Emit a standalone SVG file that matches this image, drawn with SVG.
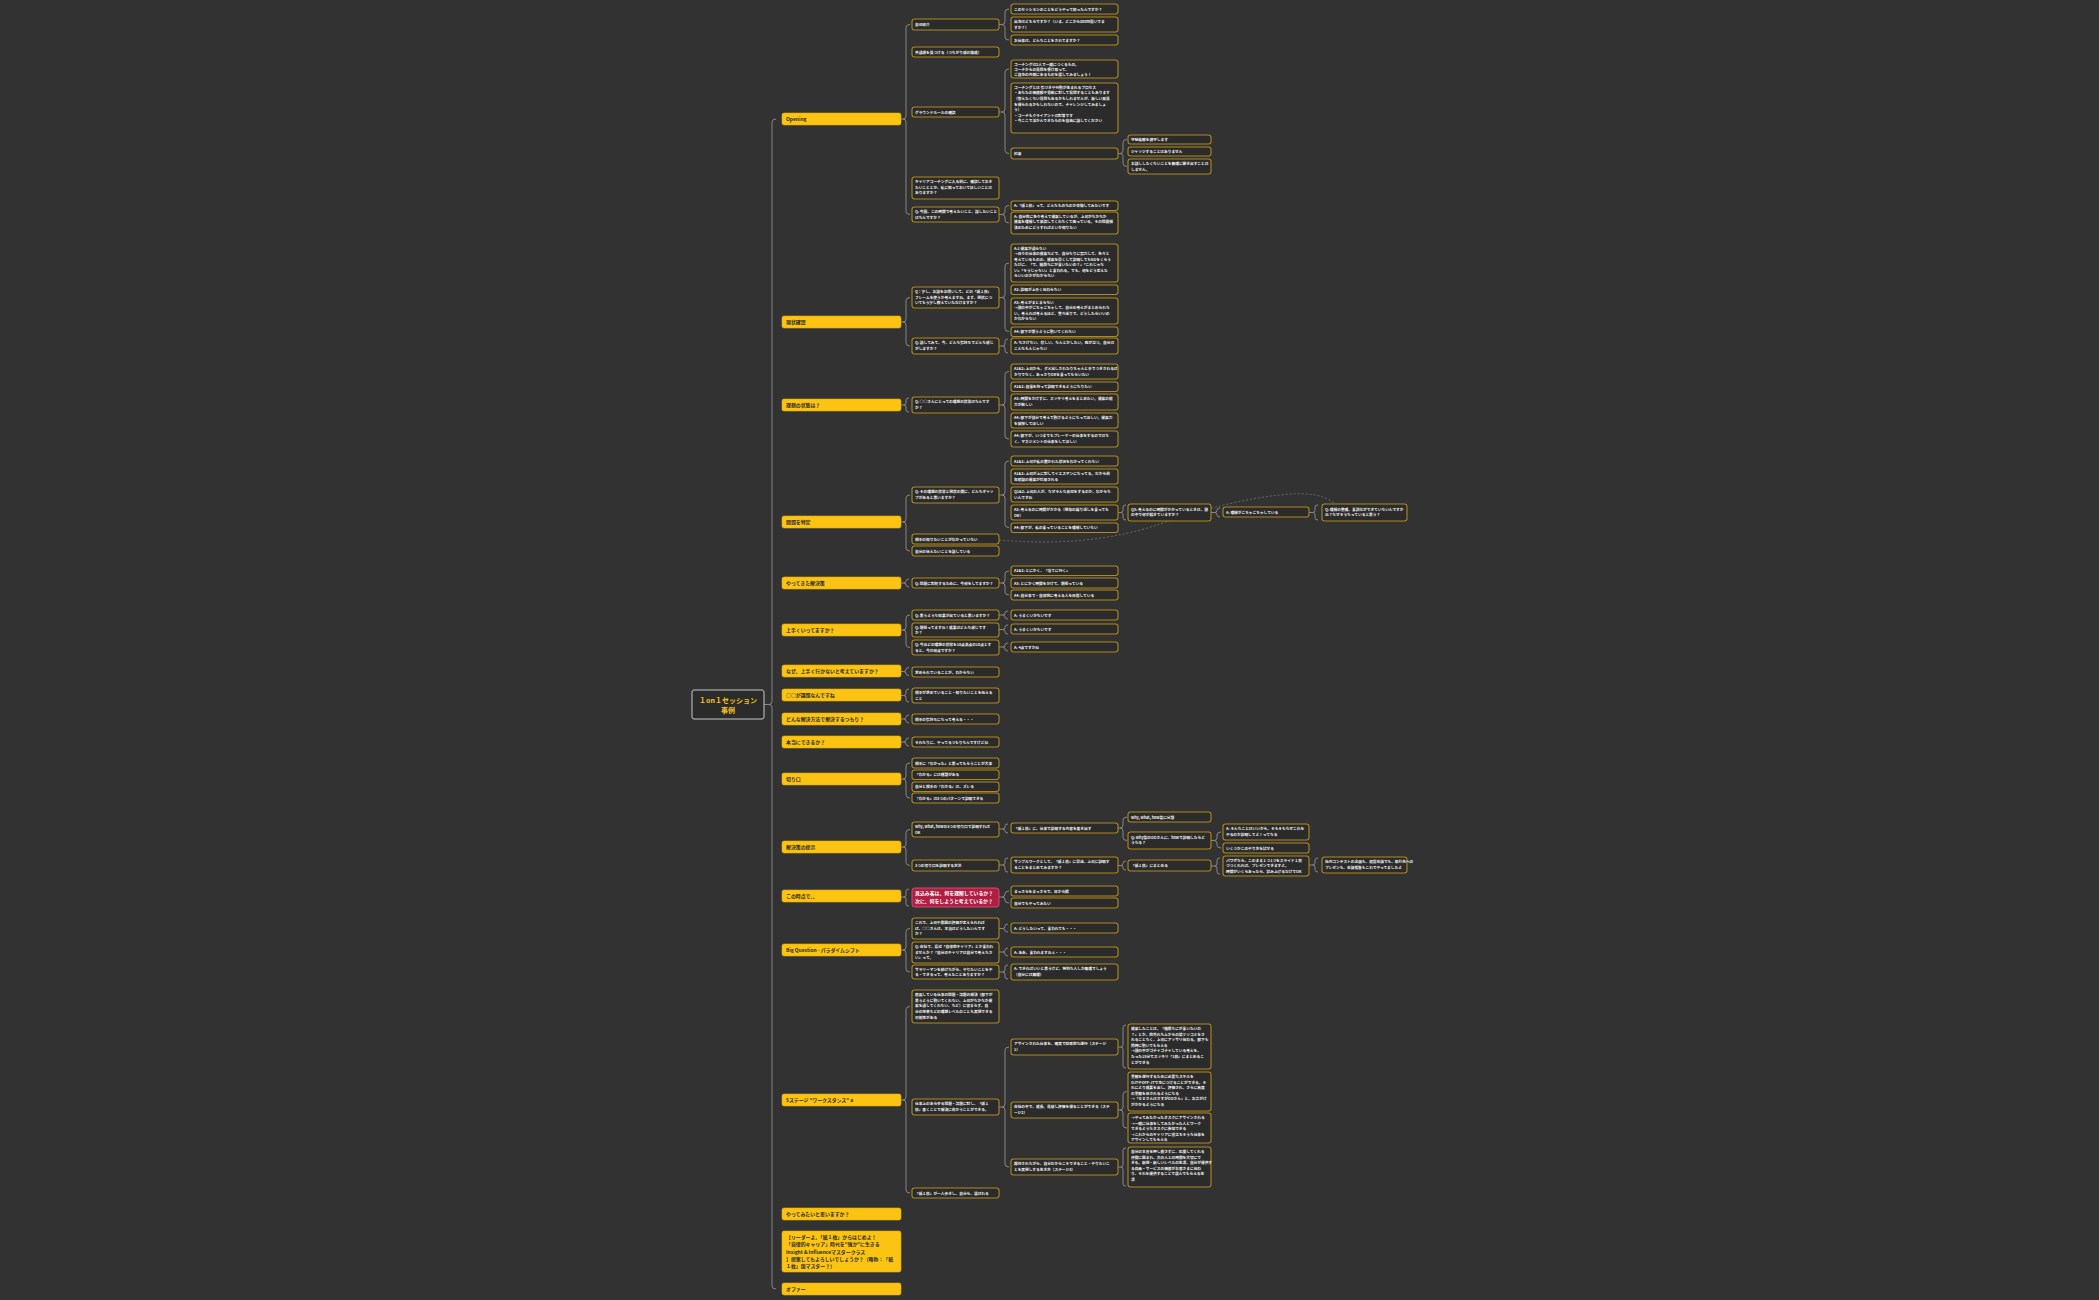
<svg xmlns="http://www.w3.org/2000/svg" width="2099" height="1300" viewBox="0 0 2099 1300">
<style>
.l1{fill:#fbc312;stroke:#e3ad0a;stroke-width:0.6}
.t1{font-family:"Noto Sans CJK JP","Noto Sans",sans-serif;font-size:4.9px;font-weight:bold;fill:#2b2b2b}
.n{fill:#2b2b2b;stroke:#b08a1c;stroke-width:1.1}
.t{font-family:"Noto Sans CJK JP","Noto Sans",sans-serif;font-size:3.7px;font-weight:bold;fill:#f0f0f0}
.br{fill:none;stroke:#8e8e8e;stroke-width:0.9}
.rel{fill:none;stroke:#777;stroke-width:0.8;stroke-dasharray:2 2}
</style>
<rect width="2099" height="1300" fill="#323232"/>
<g id="connectors">
<path class="br" d="M764 704.5 H769 M776 119 Q772 119 772 122 V701.5 Q772 704.5 769 704.5 Q772 704.5 772 707.5 V1286 Q772 1289 776 1289"/>
<path class="br" d="M901 119 H903 M910 24.5 Q906 24.5 906 27.5 V116 Q906 119 903 119 Q906 119 906 122 V211.5 Q906 214.5 910 214.5"/>
<path class="br" d="M901 322 H903 M910 297.5 Q906 297.5 906 300.5 V319 Q906 322 903 322 Q906 322 906 325 V343 Q906 346 910 346"/>
<path class="br" d="M901 405 H903.5 M909 398 Q906 398 906 400 V403 Q906 405 903.5 405 Q906 405 906 407 V410 Q906 412 909 412"/>
<path class="br" d="M901 522 H903 M910 495 Q906 495 906 498 V519 Q906 522 903 522 Q906 522 906 525 V548 Q906 551 910 551"/>
<path class="br" d="M901 583 H903.5 M909 579 Q906 579 906 581 Q906 583 903.5 583 Q906 583 906 585 Q906 587 909 587"/>
<path class="br" d="M901 630 H903 M910 615 Q906 615 906 618 V627 Q906 630 903 630 Q906 630 906 633 V644.5 Q906 647.5 910 647.5"/>
<path class="br" d="M901 671.5 H903.5 M909 667.5 Q906 667.5 906 669.5 Q906 671.5 903.5 671.5 Q906 671.5 906 673.5 Q906 675.5 909 675.5"/>
<path class="br" d="M901 695.5 H903.5 M909 689 Q906 689 906 691 V693.5 Q906 695.5 903.5 695.5 Q906 695.5 906 697.5 V700 Q906 702 909 702"/>
<path class="br" d="M901 719 H903.5 M909 715 Q906 715 906 717 Q906 719 903.5 719 Q906 719 906 721 Q906 723 909 723"/>
<path class="br" d="M901 742 H903.5 M909 738 Q906 738 906 740 Q906 742 903.5 742 Q906 742 906 744 Q906 746 909 746"/>
<path class="br" d="M901 779 H903 M910 763 Q906 763 906 766 V776 Q906 779 903 779 Q906 779 906 782 V795 Q906 798 910 798"/>
<path class="br" d="M901 847 H903 M910 829.5 Q906 829.5 906 832.5 V844 Q906 847 903 847 Q906 847 906 850 V862.5 Q906 865.5 910 865.5"/>
<path class="br" d="M901 897 H903.5 M909 889 Q906 889 906 891 V895 Q906 897 903.5 897 Q906 897 906 899 V904 Q906 906 909 906"/>
<path class="br" d="M901 950 H903 M910 928.5 Q906 928.5 906 931.5 V947 Q906 950 903 950 Q906 950 906 953 V969 Q906 972 910 972"/>
<path class="br" d="M901 1100 H903 M910 1006.5 Q906 1006.5 906 1009.5 V1097 Q906 1100 903 1100 Q906 1100 906 1103 V1190 Q906 1193 910 1193"/>
<path class="br" d="M999 24.5 H1002 M1009 9 Q1005 9 1005 12 V21.5 Q1005 24.5 1002 24.5 Q1005 24.5 1005 27.5 V37 Q1005 40 1009 40"/>
<path class="br" d="M999 112 H1002 M1009 69 Q1005 69 1005 72 V109 Q1005 112 1002 112 Q1005 112 1005 115 V150.5 Q1005 153.5 1009 153.5"/>
<path class="br" d="M999 214.5 H1002 M1009 205.5 Q1005 205.5 1005 208.5 V211.5 Q1005 214.5 1002 214.5 Q1005 214.5 1005 217.5 V220 Q1005 223 1009 223"/>
<path class="br" d="M999 297.5 H1002 M1009 263 Q1005 263 1005 266 V294.5 Q1005 297.5 1002 297.5 Q1005 297.5 1005 300.5 V328.5 Q1005 331.5 1009 331.5"/>
<path class="br" d="M999 346 H1002.5 M1008 339 Q1005 339 1005 341 V344 Q1005 346 1002.5 346 Q1005 346 1005 348 V351 Q1005 353 1008 353"/>
<path class="br" d="M999 405 H1002 M1009 371.5 Q1005 371.5 1005 374.5 V402 Q1005 405 1002 405 Q1005 405 1005 408 V436 Q1005 439 1009 439"/>
<path class="br" d="M999 495 H1002 M1009 461 Q1005 461 1005 464 V492 Q1005 495 1002 495 Q1005 495 1005 498 V524.5 Q1005 527.5 1009 527.5"/>
<path class="br" d="M999 583 H1002 M1009 571 Q1005 571 1005 574 V580 Q1005 583 1002 583 Q1005 583 1005 586 V592 Q1005 595 1009 595"/>
<path class="br" d="M999 615 H1002.5 M1008 611 Q1005 611 1005 613 Q1005 615 1002.5 615 Q1005 615 1005 617 Q1005 619 1008 619"/>
<path class="br" d="M999 629.5 H1002.5 M1008 625 Q1005 625 1005 627 V627.5 Q1005 629.5 1002.5 629.5 Q1005 629.5 1005 631.5 V632 Q1005 634 1008 634"/>
<path class="br" d="M999 647 H1002.5 M1008 643 Q1005 643 1005 645 Q1005 647 1002.5 647 Q1005 647 1005 649 Q1005 651 1008 651"/>
<path class="br" d="M999 829 H1002.5 M1008 824 Q1005 824 1005 826 V827 Q1005 829 1002.5 829 Q1005 829 1005 831 Q1005 833 1008 833"/>
<path class="br" d="M999 865 H1002.5 M1008 858 Q1005 858 1005 860 V863 Q1005 865 1002.5 865 Q1005 865 1005 867 V870 Q1005 872 1008 872"/>
<path class="br" d="M999 897 H1002 M1009 891 Q1005 891 1005 894 Q1005 897 1002 897 Q1005 897 1005 900 Q1005 903 1009 903"/>
<path class="br" d="M999 928.5 H1002.5 M1008 924 Q1005 924 1005 926 V926.5 Q1005 928.5 1002.5 928.5 Q1005 928.5 1005 930.5 Q1005 932 1008 932"/>
<path class="br" d="M999 952 H1002.5 M1008 948 Q1005 948 1005 950 Q1005 952 1002.5 952 Q1005 952 1005 954 Q1005 956 1008 956"/>
<path class="br" d="M999 972 H1002.5 M1008 965 Q1005 965 1005 967 V970 Q1005 972 1002.5 972 Q1005 972 1005 974 V977 Q1005 979 1008 979"/>
<path class="br" d="M999 1107 H1002 M1009 1047 Q1005 1047 1005 1050 V1104 Q1005 1107 1002 1107 Q1005 1107 1005 1110 V1164 Q1005 1167 1009 1167"/>
<path class="br" d="M1118 153.5 H1120 M1127 139.5 Q1123 139.5 1123 142.5 V150.5 Q1123 153.5 1120 153.5 Q1123 153.5 1123 156.5 V163.5 Q1123 166.5 1127 166.5"/>
<path class="br" d="M1118 512.5 H1120.5 M1126 505 Q1123 505 1123 507 V510.5 Q1123 512.5 1120.5 512.5 Q1123 512.5 1123 514.5 V518 Q1123 520 1126 520"/>
<path class="br" d="M1118 828 H1120 M1127 817 Q1123 817 1123 820 V825 Q1123 828 1120 828 Q1123 828 1123 831 V837.5 Q1123 840.5 1127 840.5"/>
<path class="br" d="M1118 865.5 H1120.5 M1126 861 Q1123 861 1123 863 V863.5 Q1123 865.5 1120.5 865.5 Q1123 865.5 1123 867.5 V868 Q1123 870 1126 870"/>
<path class="br" d="M1118 1047 H1120.5 M1126 1025 Q1123 1025 1123 1027 V1045 Q1123 1047 1120.5 1047 Q1123 1047 1123 1049 V1066 Q1123 1068 1126 1068"/>
<path class="br" d="M1118 1110 H1120 M1127 1091.5 Q1123 1091.5 1123 1094.5 V1107 Q1123 1110 1120 1110 Q1123 1110 1123 1113 V1125 Q1123 1128 1127 1128"/>
<path class="br" d="M1118 1167 H1120.5 M1126 1148 Q1123 1148 1123 1150 V1165 Q1123 1167 1120.5 1167 Q1123 1167 1123 1169 V1184 Q1123 1186 1126 1186"/>
<path class="br" d="M1211 512.5 H1214.5 M1220 508 Q1217 508 1217 510 V510.5 Q1217 512.5 1214.5 512.5 Q1217 512.5 1217 514.5 V515 Q1217 517 1220 517"/>
<path class="br" d="M1211 840.5 H1214 M1221 832 Q1217 832 1217 835 V837.5 Q1217 840.5 1214 840.5 Q1217 840.5 1217 843.5 V845 Q1217 848 1221 848"/>
<path class="br" d="M1211 866 H1214.5 M1220 858 Q1217 858 1217 860 V864 Q1217 866 1214.5 866 Q1217 866 1217 868 V872 Q1217 874 1220 874"/>
<path class="br" d="M1309 512.5 H1312.5 M1318 505 Q1315 505 1315 507 V510.5 Q1315 512.5 1312.5 512.5 Q1315 512.5 1315 514.5 V518 Q1315 520 1318 520"/>
<path class="br" d="M1309 865 H1312.5 M1318 858 Q1315 858 1315 860 V863 Q1315 865 1312.5 865 Q1315 865 1315 867 V870 Q1315 872 1318 872"/>
<path class="rel" d="M999 540 Q1090 548 1160 524 T1280 495 Q1320 490 1335 504"/>
</g>

<g id="root"><rect x="692" y="690" width="72" height="29" rx="2" fill="#2b2b2b" stroke="#c8c8c8" stroke-width="1"/><text x="728" y="702.5" text-anchor="middle" font-family="Noto Sans CJK JP, sans-serif" font-size="7" font-weight="bold" fill="#f6c21c">１on１セッション</text><text x="728" y="713" text-anchor="middle" font-family="Noto Sans CJK JP, sans-serif" font-size="7" font-weight="bold" fill="#f6c21c">事例</text></g>

<g id="l1-opening"><rect class="l1" x="782" y="113" width="119" height="12" rx="2"/><text class="t1" x="786" y="121">Opening</text></g>
<g id="l1-genjo"><rect class="l1" x="782" y="316" width="119" height="12" rx="2"/><text class="t1" x="786" y="324">現状確認</text></g>
<g id="l1-riso"><rect class="l1" x="782" y="399" width="119" height="12" rx="2"/><text class="t1" x="786" y="407">理想の状態は？</text></g>
<g id="l1-mondai"><rect class="l1" x="782" y="516" width="119" height="12" rx="2"/><text class="t1" x="786" y="524">問題を特定</text></g>
<g id="l1-yattekita"><rect class="l1" x="782" y="577" width="119" height="12" rx="2"/><text class="t1" x="786" y="585">やってきた解決策</text></g>
<g id="l1-umaku"><rect class="l1" x="782" y="624" width="119" height="12" rx="2"/><text class="t1" x="786" y="632">上手くいってますか？</text></g>
<g id="l1-naze"><rect class="l1" x="782" y="665" width="119" height="12" rx="2"/><text class="t1" x="786" y="673">なぜ、上手く行かないと考えていますか？</text></g>
<g id="l1-kadai"><rect class="l1" x="782" y="689" width="119" height="12" rx="2"/><text class="t1" x="786" y="697">○○が課題なんですね</text></g>
<g id="l1-donna"><rect class="l1" x="782" y="713" width="119" height="12" rx="2"/><text class="t1" x="786" y="721">どんな解決方法で解決するつもり？</text></g>
<g id="l1-honto"><rect class="l1" x="782" y="736" width="119" height="12" rx="2"/><text class="t1" x="786" y="744">本当にできるか？</text></g>
<g id="l1-kiriguchi"><rect class="l1" x="782" y="773" width="119" height="12" rx="2"/><text class="t1" x="786" y="781">切り口</text></g>
<g id="l1-kaiketsu"><rect class="l1" x="782" y="841" width="119" height="12" rx="2"/><text class="t1" x="786" y="849">解決策の提示</text></g>
<g id="l1-jiten"><rect class="l1" x="782" y="890" width="119" height="12" rx="2"/><text class="t1" x="786" y="898">この時点で、、</text></g>
<g id="l1-bigq"><rect class="l1" x="782" y="944" width="119" height="12" rx="2"/><text class="t1" x="786" y="952">Big Question - パラダイムシフト</text></g>
<g id="l1-stage"><rect class="l1" x="782" y="1094" width="119" height="12" rx="2"/><text class="t1" x="786" y="1102">5ステージ "ワークスタンス" a</text></g>
<g id="l1-yatte"><rect class="l1" x="782" y="1208" width="119" height="12" rx="2"/><text class="t1" x="786" y="1216">やってみたいと思いますか？</text></g>
<g id="l1-leader"><rect class="l1" x="782" y="1231" width="119" height="41" rx="2"/><text class="t1" x="786" y="1238.5">【リーダーよ、「紙１枚」からはじめよ！</text><text class="t1" x="786" y="1246">「自律的キャリア」時代を"強か"に生きる</text><text class="t1" x="786" y="1253.5">Insight &amp; Influenceマスタークラス</text><text class="t1" x="786" y="1261">】提案してもよろしいでしょうか？（略称：「紙</text><text class="t1" x="786" y="1268">１枚」版マスター？）</text></g>
<g id="l1-offer"><rect class="l1" x="782" y="1283" width="119" height="12" rx="2"/><text class="t1" x="786" y="1291">オファー</text></g>

<!-- Opening -->
<g id="n-jiko"><rect class="n" x="912" y="19" width="87" height="11" rx="2.5"/><text class="t" x="915" y="26">自己紹介</text></g>
<g id="n-jiko-a1"><rect class="n" x="1011" y="4" width="107" height="10" rx="2.5"/><text class="t" x="1014" y="10.5">このセッションのことをどうやって知ったんですか？</text></g>
<g id="n-jiko-a2"><rect class="n" x="1011" y="17" width="107" height="15" rx="2.5"/><text class="t" x="1014" y="23">出身はどちらですか？（いま、どこからzoom繋いでま</text><text class="t" x="1014" y="28.7">すか？）</text></g>
<g id="n-jiko-a3"><rect class="n" x="1011" y="35" width="107" height="10" rx="2.5"/><text class="t" x="1014" y="41.5">お仕事は、どんなことをされてますか？</text></g>
<g id="n-kyotsu"><rect class="n" x="912" y="47" width="87" height="10" rx="2.5"/><text class="t" x="915" y="53.5">共通項を見つける（つながり感の醸成）</text></g>
<g id="n-ground"><rect class="n" x="912" y="107" width="87" height="10" rx="2.5"/><text class="t" x="915" y="113.5">グラウンドルールの確認</text></g>
<g id="n-ground-a1"><rect class="n" x="1011" y="60" width="107" height="18" rx="2.5"/><text class="t" x="1014" y="65.5">コーチングは2人で一緒につくるもの。</text><text class="t" x="1014" y="70.7">コーチからの質問を受け取って、</text><text class="t" x="1014" y="76">ご自身の内側にあるものを探してみましょう！</text></g>
<g id="n-ground-a2"><rect class="n" x="1011" y="83" width="107" height="50" rx="2.5"/><text class="t" x="1014" y="88.8">コーチングとは 気づきや行動が生まれるプロセス</text><text class="t" x="1014" y="94.3">・あなたの価値観や意欲に対して質問することもあります</text><text class="t" x="1014" y="100.3">（答えたくない質問もあるかもしれませんが、新しい発見</text><text class="t" x="1014" y="105.8">を得られるかもしれないので、チャレンジしてみましょ</text><text class="t" x="1014" y="111.2">う）</text><text class="t" x="1014" y="116.8">・コーチもクライアントは対等です</text><text class="t" x="1014" y="122.4">・今ここで浮かんできたものを自由に話してください</text></g>
<g id="n-yakusoku"><rect class="n" x="1011" y="148" width="107" height="11" rx="2.5"/><text class="t" x="1014" y="155">約束</text></g>
<g id="n-yakusoku-1"><rect class="n" x="1128" y="135" width="83" height="9" rx="2.5"/><text class="t" x="1131" y="141">守秘義務を遵守します</text></g>
<g id="n-yakusoku-2"><rect class="n" x="1128" y="147" width="83" height="9" rx="2.5"/><text class="t" x="1131" y="153">ジャッジすることはありません</text></g>
<g id="n-yakusoku-3"><rect class="n" x="1128" y="159" width="83" height="15" rx="2.5"/><text class="t" x="1131" y="165">お話ししたくないことを無理に聞き出すことは</text><text class="t" x="1131" y="170.7">しません。</text></g>
<g id="n-career"><rect class="n" x="912" y="177" width="87" height="22" rx="2.5"/><text class="t" x="915" y="182.8">キャリアコーチングに入る前に、確認しておき</text><text class="t" x="915" y="188.6">たいこととか、私に知っておいてほしいことは</text><text class="t" x="915" y="194.4">ありますか？</text></g>
<g id="n-konkai"><rect class="n" x="912" y="207" width="87" height="15" rx="2.5"/><text class="t" x="915" y="213">Q: 今回、この時間で考えたいこと、話したいこと</text><text class="t" x="915" y="218.7">はなんですか？</text></g>
<g id="n-konkai-a1"><rect class="n" x="1011" y="201" width="107" height="9.5" rx="2.5"/><text class="t" x="1014" y="207.3">A:「紙１枚」って、どんなものなのか体験してみたいです</text></g>
<g id="n-konkai-a2"><rect class="n" x="1011" y="212" width="107" height="22" rx="2.5"/><text class="t" x="1014" y="217.8">A: 自分的に色々考えて提案しているが、上司がなかなか</text><text class="t" x="1014" y="223.3">提案を理解して承認してくれなくて困っている。その問題解</text><text class="t" x="1014" y="228.8">決のためにどうすればよいか知りたい</text></g>

<!-- 現状確認 -->
<g id="n-sukoshi"><rect class="n" x="912" y="287" width="87" height="21" rx="2.5"/><text class="t" x="915" y="293">Q：少し、お話をお伺いして、どの「紙１枚」</text><text class="t" x="915" y="298.7">フレームを使うか考えますね。まず、現状につ</text><text class="t" x="915" y="304.4">いてもう少し教えていただけますか？</text></g>
<g id="n-sukoshi-a1"><rect class="n" x="1011" y="244" width="107" height="38" rx="2.5"/><text class="t" x="1014" y="249.8">A:1 提案が通らない</text><text class="t" x="1014" y="255.3">→日々の仕事の提案などで、自分なりに努力して、色々と</text><text class="t" x="1014" y="260.8">考えているものの、提案を早くして説明してもNGをくらう</text><text class="t" x="1014" y="266.3">たびに、「で、結局なにが言いたいの？」「これじゃな</text><text class="t" x="1014" y="271.8">い」「そうじゃない」と言われる。でも、何をどう変えた</text><text class="t" x="1014" y="277.3">らいいのかがわからない</text></g>
<g id="n-sukoshi-a2"><rect class="n" x="1011" y="285" width="107" height="9.5" rx="2.5"/><text class="t" x="1014" y="291.3">A2: 説明が上手く伝わらない</text></g>
<g id="n-sukoshi-a3"><rect class="n" x="1011" y="298" width="107" height="26" rx="2.5"/><text class="t" x="1014" y="303.8">A3: 考えがまとまらない</text><text class="t" x="1014" y="309.3">→頭の中がごちゃごちゃして、自分の考えがまとめられな</text><text class="t" x="1014" y="314.8">い。考えれば考えるほど、堂々巡りで、どうしたらいいの</text><text class="t" x="1014" y="320.3">かわからない</text></g>
<g id="n-sukoshi-a4"><rect class="n" x="1011" y="327" width="107" height="9.5" rx="2.5"/><text class="t" x="1014" y="333.3">A4: 部下が思うように動いてくれない</text></g>
<g id="n-hanashite"><rect class="n" x="912" y="338" width="87" height="16" rx="2.5"/><text class="t" x="915" y="344.2">Q: 話してみて、今、どんな気持ちでどんな感じ</text><text class="t" x="915" y="349.9">がしますか？</text></g>
<g id="n-hanashite-a"><rect class="n" x="1011" y="338" width="107" height="16" rx="2.5"/><text class="t" x="1014" y="344.2">A: なさけない、悲しい、なんとかしたい。腹が立つ。自分は</text><text class="t" x="1014" y="349.9">こんなもんじゃない</text></g>

<!-- 理想 -->
<g id="n-riso"><rect class="n" x="912" y="397" width="87" height="16" rx="2.5"/><text class="t" x="915" y="403.2">Q: ○○さんにとっての理想の状態はなんです</text><text class="t" x="915" y="408.9">か？</text></g>
<g id="n-riso-a1"><rect class="n" x="1011" y="364" width="107" height="15" rx="2.5"/><text class="t" x="1014" y="370">A1&amp;2: 上司から、ダメ出しされたりちゃんと手でつきされるば</text><text class="t" x="1014" y="375.6">かりでなく、あっさりOKを言ってもらいたい</text></g>
<g id="n-riso-a2"><rect class="n" x="1011" y="382" width="107" height="9.5" rx="2.5"/><text class="t" x="1014" y="388.3">A1&amp;2: 自信を持って説明できるようになりたい</text></g>
<g id="n-riso-a3"><rect class="n" x="1011" y="394" width="107" height="16" rx="2.5"/><text class="t" x="1014" y="400.2">A3: 時間をかけずに、スッキリ考えをまとめたい。提案の能</text><text class="t" x="1014" y="405.9">力が欲しい</text></g>
<g id="n-riso-a4"><rect class="n" x="1011" y="413" width="107" height="15" rx="2.5"/><text class="t" x="1014" y="419">A4: 部下が自分で考えて動けるようになってほしい。提案力</text><text class="t" x="1014" y="424.6">を発揮してほしい</text></g>
<g id="n-riso-a5"><rect class="n" x="1011" y="431" width="107" height="16" rx="2.5"/><text class="t" x="1014" y="437.2">A4: 部下が、いつまでもプレーヤーの仕事をするのではな</text><text class="t" x="1014" y="442.9">く、マネジメントの仕事をしてほしい</text></g>

<!-- 問題を特定 -->
<g id="n-gap"><rect class="n" x="912" y="487" width="87" height="16" rx="2.5"/><text class="t" x="915" y="493.2">Q: その理想の状態と現状の間に、どんなギャッ</text><text class="t" x="915" y="498.9">プがあると思いますか？</text></g>
<g id="n-gap-a1"><rect class="n" x="1011" y="456" width="107" height="10" rx="2.5"/><text class="t" x="1014" y="462.5">A1&amp;2: 上司が私の置かれた状況をわかってくれない</text></g>
<g id="n-gap-a2"><rect class="n" x="1011" y="469" width="107" height="15" rx="2.5"/><text class="t" x="1014" y="475">A1&amp;2: 上司が上に対してイエスマンになってる。だから前</text><text class="t" x="1014" y="480.6">年踏襲の提案が採用される</text></g>
<g id="n-gap-a3"><rect class="n" x="1011" y="487" width="107" height="15" rx="2.5"/><text class="t" x="1014" y="493">Q1&amp;2: 上司の人が、なぜそんな反応をするのか、わからな</text><text class="t" x="1014" y="498.6">いんですね</text></g>
<g id="n-gap-a4"><rect class="n" x="1011" y="505" width="107" height="15" rx="2.5"/><text class="t" x="1014" y="511">A3: 考えるのに時間がかかる（既存の繰り返しを言っても</text><text class="t" x="1014" y="516.6">OK）</text></g>
<g id="n-gap-a5"><rect class="n" x="1011" y="523" width="107" height="9.5" rx="2.5"/><text class="t" x="1014" y="529.3">A4: 部下が、私の言っていることを理解していない</text></g>
<g id="n-q3"><rect class="n" x="1128" y="504" width="83" height="17" rx="2.5"/><text class="t" x="1131" y="510.5">Q3: 考えるのに時間がかかっているときは、頭</text><text class="t" x="1131" y="516.2">の中で何が起きていますか？</text></g>
<g id="n-q3-a"><rect class="n" x="1223" y="507" width="86" height="10" rx="2.5"/><text class="t" x="1226" y="513.5">A: 理解がごちゃごちゃしている</text></g>
<g id="n-q3-q"><rect class="n" x="1322" y="504" width="85" height="17" rx="2.5"/><text class="t" x="1325" y="510.5">Q: 理解の整理、言語化ができていないんですか</text><text class="t" x="1325" y="516.2">ね？なぜそうなっていると思う？</text></g>
<g id="n-aite"><rect class="n" x="912" y="534" width="87" height="10" rx="2.5"/><text class="t" x="915" y="540.5">相手の知りたいことがわかっていない</text></g>
<g id="n-jibun"><rect class="n" x="912" y="546" width="87" height="10" rx="2.5"/><text class="t" x="915" y="552.5">自分の伝えたいことを話している</text></g>

<!-- やってきた解決策 -->
<g id="n-taisho"><rect class="n" x="912" y="578" width="87" height="10" rx="2.5"/><text class="t" x="915" y="584.5">Q: 問題に対処するために、今何をしてますか？</text></g>
<g id="n-taisho-a1"><rect class="n" x="1011" y="566" width="107" height="9.5" rx="2.5"/><text class="t" x="1014" y="572.3">A1&amp;2: とにかく、「当てに行く」</text></g>
<g id="n-taisho-a2"><rect class="n" x="1011" y="578" width="107" height="10" rx="2.5"/><text class="t" x="1014" y="584.5">A3: とにかく時間をかけて、頑張っている</text></g>
<g id="n-taisho-a3"><rect class="n" x="1011" y="590" width="107" height="10" rx="2.5"/><text class="t" x="1014" y="596.5">A4: 自分事で・自律的に考える人を目指している</text></g>

<!-- 上手く -->
<g id="n-umaku1"><rect class="n" x="912" y="610" width="87" height="10" rx="2.5"/><text class="t" x="915" y="616.5">Q: 思うような効果が出ていると思いますか？</text></g>
<g id="n-umaku1-a"><rect class="n" x="1011" y="610" width="107" height="10" rx="2.5"/><text class="t" x="1014" y="616.5">A: うまくいかないです</text></g>
<g id="n-umaku2"><rect class="n" x="912" y="623" width="87" height="14" rx="2.5"/><text class="t" x="915" y="628.8">Q: 頑張ってますね！成果はどんな感じです</text><text class="t" x="915" y="634.3">か？</text></g>
<g id="n-umaku2-a"><rect class="n" x="1011" y="624" width="107" height="10" rx="2.5"/><text class="t" x="1014" y="630.5">A: うまくいかないです</text></g>
<g id="n-umaku3"><rect class="n" x="912" y="640" width="87" height="15" rx="2.5"/><text class="t" x="915" y="646">Q: 今ほどの理想の状態を10点満点の10点とす</text><text class="t" x="915" y="651.6">ると、今は何点ですか？</text></g>
<g id="n-umaku3-a"><rect class="n" x="1011" y="642" width="107" height="10" rx="2.5"/><text class="t" x="1014" y="648.5">A: 4点ですかね</text></g>

<g id="n-naze"><rect class="n" x="912" y="667" width="87" height="10" rx="2.5"/><text class="t" x="915" y="673.5">求められていることが、わからない</text></g>
<g id="n-kadai"><rect class="n" x="912" y="688" width="87" height="15" rx="2.5"/><text class="t" x="915" y="694">相手が求めていること・知りたいことを伝える</text><text class="t" x="915" y="699.6">こと</text></g>
<g id="n-donna"><rect class="n" x="912" y="714" width="87" height="10" rx="2.5"/><text class="t" x="915" y="720.5">相手の気持ちになって考える・・・</text></g>
<g id="n-honto"><rect class="n" x="912" y="737" width="87" height="10" rx="2.5"/><text class="t" x="915" y="743.5">それなりに、やってるつもりなんですけどね</text></g>

<!-- 切り口 -->
<g id="n-kiri1"><rect class="n" x="912" y="758" width="87" height="10" rx="2.5"/><text class="t" x="915" y="764.5">相手に「わかった」と思ってもらうことが大事</text></g>
<g id="n-kiri2"><rect class="n" x="912" y="770" width="87" height="9.5" rx="2.5"/><text class="t" x="915" y="776.3">「わかる」には種類がある</text></g>
<g id="n-kiri3"><rect class="n" x="912" y="782" width="87" height="9.5" rx="2.5"/><text class="t" x="915" y="788.3">自分と相手の「わかる」は、ズレる</text></g>
<g id="n-kiri4"><rect class="n" x="912" y="793" width="87" height="10" rx="2.5"/><text class="t" x="915" y="799.5">「わかる」は3つのパターンで説明できる</text></g>

<!-- 解決策の提示 -->
<g id="n-wwh"><rect class="n" x="912" y="822" width="87" height="15" rx="2.5"/><text class="t" x="915" y="828">why, what, howの3つの切り口で説明すれば</text><text class="t" x="915" y="833.6">OK</text></g>
<g id="n-wwh-a"><rect class="n" x="1011" y="823" width="107" height="10" rx="2.5"/><text class="t" x="1014" y="829.5">「紙１枚」に、仕事で説明する内容を書き出す</text></g>
<g id="n-wwh-b1"><rect class="n" x="1128" y="812" width="83" height="10" rx="2.5"/><text class="t" x="1131" y="818.5">why, what, how型に分類</text></g>
<g id="n-wwh-b2"><rect class="n" x="1128" y="832" width="83" height="17" rx="2.5"/><text class="t" x="1131" y="838.5">Q: why型のOOさんに、howで説明したらど</text><text class="t" x="1131" y="844.2">うなる？</text></g>
<g id="n-wwh-c1"><rect class="n" x="1223" y="824" width="86" height="16" rx="2.5"/><text class="t" x="1226" y="830.2">A: そんなことはいいから、そもそもなぜこれを</text><text class="t" x="1226" y="835.9">やるのか説明してよ！ってなる</text></g>
<g id="n-wwh-c2"><rect class="n" x="1223" y="843" width="86" height="10" rx="2.5"/><text class="t" x="1226" y="849.5">いくつかこのやり方を試せる</text></g>
<g id="n-3kiri"><rect class="n" x="912" y="860" width="87" height="11" rx="2.5"/><text class="t" x="915" y="867">3つの切り口を説明する方法</text></g>
<g id="n-sample"><rect class="n" x="1011" y="857" width="107" height="16" rx="2.5"/><text class="t" x="1014" y="863.2">サンプルワークとして、「紙１枚」に早速、上司に説明す</text><text class="t" x="1014" y="868.9">ることをまとめてみますか？</text></g>
<g id="n-matomeru"><rect class="n" x="1128" y="860" width="83" height="11" rx="2.5"/><text class="t" x="1131" y="867">「紙１枚」にまとめる</text></g>
<g id="n-pawapo"><rect class="n" x="1223" y="856" width="86" height="20" rx="2.5"/><text class="t" x="1226" y="861.8">パワポなら、このまま１つ1つをスライド１枚</text><text class="t" x="1226" y="867.3">づつくれれば、プレゼンできますよ。</text><text class="t" x="1226" y="872.8">時間がいくらあったら、読み上げるだけでOK</text></g>
<g id="n-shanai"><rect class="n" x="1322" y="857" width="85" height="16" rx="2.5"/><text class="t" x="1325" y="863.2">社内コンテストの企画も、経営会議でも、取引先への</text><text class="t" x="1325" y="868.9">プレゼンも、会議報告もこれでやってましたよ</text></g>

<!-- この時点で -->
<g id="n-red"><rect x="912" y="888" width="87" height="19" rx="2.5" fill="#b01e44" stroke="#d9587a" stroke-width="0.8"/><text x="915" y="895.3" font-family="Noto Sans CJK JP, sans-serif" font-size="4.9" font-weight="bold" fill="#ffffff">見込み客は、何を理解しているか？</text><text x="915" y="903.3" font-family="Noto Sans CJK JP, sans-serif" font-size="4.9" font-weight="bold" fill="#ffffff">次に、何をしようと考えているか？</text></g>
<g id="n-red-a1"><rect class="n" x="1011" y="886" width="107" height="10" rx="2.5"/><text class="t" x="1014" y="892.5">まっさらをまっさらで、目から鱗</text></g>
<g id="n-red-a2"><rect class="n" x="1011" y="898" width="107" height="10" rx="2.5"/><text class="t" x="1014" y="904.5">自分でもやってみたい</text></g>

<!-- Big Question -->
<g id="n-big1"><rect class="n" x="912" y="918" width="87" height="21" rx="2.5"/><text class="t" x="915" y="924">これで、上司や周囲の評価が変えられれば</text><text class="t" x="915" y="929.7">ば、○○さんは、本当はどうしたいんです</text><text class="t" x="915" y="935.4">か？</text></g>
<g id="n-big1-a"><rect class="n" x="1011" y="923" width="107" height="10" rx="2.5"/><text class="t" x="1014" y="929.5">A: どうしたいって、言われても・・・</text></g>
<g id="n-big2"><rect class="n" x="912" y="942" width="87" height="21" rx="2.5"/><text class="t" x="915" y="948">Q: 会社で、最近「自律的キャリア」とか言われ</text><text class="t" x="915" y="953.7">ませんか？「自分のキャリアは自分で考えなさ</text><text class="t" x="915" y="959.4">い」って。</text></g>
<g id="n-big2-a"><rect class="n" x="1011" y="947" width="107" height="10" rx="2.5"/><text class="t" x="1014" y="953.5">A: ああ、言われますねぇ・・・</text></g>
<g id="n-big3"><rect class="n" x="912" y="965" width="87" height="14" rx="2.5"/><text class="t" x="915" y="970.8">サラリーマンを続けながら、やりたいことをや</text><text class="t" x="915" y="976.3">る・できるって、考えたことありますか？</text></g>
<g id="n-big3-a"><rect class="n" x="1011" y="964" width="107" height="16" rx="2.5"/><text class="t" x="1014" y="970.2">A: できればいいと思うけど、特別な人しか無理でしょう</text><text class="t" x="1014" y="975.9">（自分には無理）</text></g>

<!-- 5ステージ -->
<g id="n-st0"><rect class="n" x="912" y="990" width="87" height="33" rx="2.5"/><text class="t" x="915" y="996">直面している仕事の問題・課題の解決（部下が</text><text class="t" x="915" y="1001.7">思うように動いてくれない、上司がなかなか提</text><text class="t" x="915" y="1007.4">案を通してくれない、など）に留まらず、自</text><text class="t" x="915" y="1013.1">分の将来などの理想レベルのことも実現できる</text><text class="t" x="915" y="1018.8">可能性がある</text></g>
<g id="n-st"><rect class="n" x="912" y="1099" width="87" height="16" rx="2.5"/><text class="t" x="915" y="1105.2">仕事上のあらゆる問題・課題に対し、「紙１</text><text class="t" x="915" y="1110.9">枚」書くことで解決に向かうことができる。</text></g>
<g id="n-st1"><rect class="n" x="1011" y="1039" width="107" height="16" rx="2.5"/><text class="t" x="1014" y="1045.2">アサインされた仕事を、確実で効率的な遂行（ステージ</text><text class="t" x="1014" y="1050.9">1）</text></g>
<g id="n-st1-d"><rect class="n" x="1128" y="1024" width="83" height="45" rx="2.5"/><text class="t" x="1131" y="1030">提案したことは、「結局なにが言いたいの</text><text class="t" x="1131" y="1035.6">？」とか、的外れな上からの誤ツッコミをさ</text><text class="t" x="1131" y="1041.2">れることなく、上司にアッサリ伝わる。部下も</text><text class="t" x="1131" y="1046.8">同時に動いてもらえる</text><text class="t" x="1131" y="1052.4">→頭の中がゴチャゴチャしている考えを、</text><text class="t" x="1131" y="1058">たった15分でスッキリ「1枚」にまとめるこ</text><text class="t" x="1131" y="1063.6">とができる</text></g>
<g id="n-st2"><rect class="n" x="1011" y="1102" width="107" height="16" rx="2.5"/><text class="t" x="1014" y="1108.2">会社の中で、成長、貢献し評価を得ることができる（ステ</text><text class="t" x="1014" y="1113.9">ージ2）</text></g>
<g id="n-st2-d1"><rect class="n" x="1128" y="1072" width="83" height="39" rx="2.5"/><text class="t" x="1131" y="1078">業務を遂行するために必要なスキルを</text><text class="t" x="1131" y="1083.6">OJTやOFF-JTで身につけることができる。そ</text><text class="t" x="1131" y="1089.2">れにより成果を出し、評価され、さらに高度</text><text class="t" x="1131" y="1094.8">の業務を任されるようになる</text><text class="t" x="1131" y="1100.4">→「ｏｏさんはさすがOOさん」と、お声がけ</text><text class="t" x="1131" y="1106">がかかるようになる</text></g>
<g id="n-st2-d2"><rect class="n" x="1128" y="1113" width="83" height="30" rx="2.5"/><text class="t" x="1131" y="1119">→やってみたかったタスクにアサインされる</text><text class="t" x="1131" y="1124.6">→一緒に仕事をしてみたかった人とワーク</text><text class="t" x="1131" y="1130.2">できるようなタスクに参加できる</text><text class="t" x="1131" y="1135.8">→これからのキャリアに役立ちそうな仕事を</text><text class="t" x="1131" y="1141.4">アサインしてもらえる</text></g>
<g id="n-st3"><rect class="n" x="1011" y="1159" width="107" height="16" rx="2.5"/><text class="t" x="1014" y="1165.2">期待されながら、自分だからこそできること・やりたいこ</text><text class="t" x="1014" y="1170.9">とを実現しする生き方（ステージ3）</text></g>
<g id="n-st3-d"><rect class="n" x="1128" y="1147" width="83" height="40" rx="2.5"/><text class="t" x="1131" y="1153">自分の本音を押し殺さずに、応援してくれる</text><text class="t" x="1131" y="1158.6">仲間に囲まれ、次の人との時間を大切にで</text><text class="t" x="1131" y="1164.2">きる。新規・新しいレベルの生活、自分が提供す</text><text class="t" x="1131" y="1169.8">る商品・サービスの価値がお客さまに伝わ</text><text class="t" x="1131" y="1175.4">り、それを提供することで選んでもらえる生</text><text class="t" x="1131" y="1181">活</text></g>
<g id="n-st4"><rect class="n" x="912" y="1188" width="87" height="10" rx="2.5"/><text class="t" x="915" y="1194.5">「紙１枚」が一人歩きし、自分ら、選ばれる</text></g>
</svg>
